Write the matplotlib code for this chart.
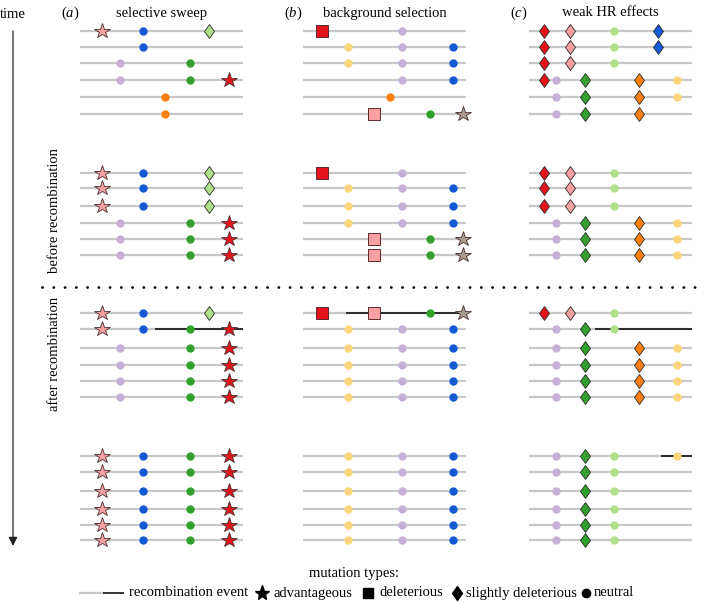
import matplotlib
matplotlib.use("Agg")
import matplotlib.pyplot as plt
from matplotlib.path import Path

plt.rcParams['font.family'] = ['Liberation Serif', 'DejaVu Serif']
plt.rcParams['mathtext.fontset'] = 'custom'
plt.rcParams['mathtext.rm'] = 'Liberation Serif'
plt.rcParams['mathtext.it'] = 'Liberation Serif:italic'

# ---------------- data ----------------
panel_labels = ['a', 'b', 'c']
panel_titles = ['selective sweep', 'background selection', 'weak HR effects']
stage_labels = ['before recombination', 'after recombination']

# (a) selective sweep: mutation -> position along chromosome (fraction), type, colour
sweep_names = ['adv1', 'neuP', 'neuB', 'neuO', 'neuG', 'sdelLG', 'adv2']
sweep_pos = [0.135, 0.245, 0.386, 0.52, 0.675, 0.79, 0.915]
sweep_type = ['adv', 'neu', 'neu', 'neu', 'neu', 'sdel', 'adv']
sweep_col = ['#f4a0a4', '#c7b0d8', '#1359d6', '#ff7f0e', '#32a02c', '#b2df8a', '#e3141c']
sweep_haps = [
    [['adv1', 'neuB', 'sdelLG'], ['neuB'], ['neuP', 'neuG'], ['neuP', 'neuG', 'adv2'], ['neuO'], ['neuO']],
    [['adv1', 'neuB', 'sdelLG']] * 3 + [['neuP', 'neuG', 'adv2']] * 3,
    [['adv1', 'neuB', 'sdelLG'], ['adv1', 'neuB', 'neuG', 'adv2']] + [['neuP', 'neuG', 'adv2']] * 4,
    [['adv1', 'neuB', 'neuG', 'adv2']] * 6,
]
sweep_recomb = [(2, 1, 0.46)]  # (block, row, start of recombined segment)

# (b) background selection
bgs_names = ['delR', 'neuY', 'delP', 'neuO', 'neuP', 'neuG', 'neuB', 'advG']
bgs_pos = [0.115, 0.275, 0.435, 0.535, 0.605, 0.78, 0.92, 0.98]
bgs_type = ['del', 'neu', 'del', 'neu', 'neu', 'neu', 'neu', 'adv']
bgs_col = ['#e3141c', '#fdd57a', '#f9a0a2', '#ff7f0e', '#c7b0d8', '#32a02c', '#1359d6', '#a69c92']
bgs_haps = [
    [['delR', 'neuP'], ['neuY', 'neuP', 'neuB'], ['neuY', 'neuP', 'neuB'], ['neuP', 'neuB'], ['neuO'], ['delP', 'neuG', 'advG']],
    [['delR', 'neuP']] + [['neuY', 'neuP', 'neuB']] * 3 + [['delP', 'neuG', 'advG']] * 2,
    [['delR', 'delP', 'neuG', 'advG']] + [['neuY', 'neuP', 'neuB']] * 5,
    [['neuY', 'neuP', 'neuB']] * 6,
]
bgs_recomb = [(2, 0, 0.265)]

# (c) weak Hill-Robertson effects
hr_names = ['sdR', 'neuP', 'sdP', 'sdG', 'neuLG', 'sdO', 'sdB', 'neuY']
hr_pos = [0.09, 0.165, 0.25, 0.345, 0.52, 0.675, 0.79, 0.905]
hr_type = ['sdel', 'neu', 'sdel', 'sdel', 'neu', 'sdel', 'sdel', 'neu']
hr_col = ['#e3141c', '#c7b0d8', '#f9a0a2', '#32a02c', '#b2df8a', '#ff7f0e', '#1359d6', '#fdd57a']
hr_haps = [
    [['sdR', 'sdP', 'neuLG', 'sdB'], ['sdR', 'sdP', 'neuLG', 'sdB'], ['sdR', 'sdP', 'neuLG'],
     ['sdR', 'neuP', 'sdG', 'sdO', 'neuY'], ['neuP', 'sdG', 'sdO', 'neuY'], ['neuP', 'sdG', 'sdO']],
    [['sdR', 'sdP', 'neuLG']] * 3 + [['neuP', 'sdG', 'sdO', 'neuY']] * 3,
    [['sdR', 'sdP', 'neuLG'], ['neuP', 'sdG', 'neuLG']] + [['neuP', 'sdG', 'sdO', 'neuY']] * 4,
    [['neuP', 'sdG', 'neuLG', 'neuY']] + [['neuP', 'sdG', 'neuLG']] * 5,
]
hr_recomb = [(2, 1, 0.405), (3, 0, 0.81)]

legend_labels = ['recombination event', 'advantageous', 'deleterious', 'slightly deleterious', 'neutral']

# ---------------- layout / style ----------------
W, H = 709, 602
panel_x0 = [80, 303, 529]
panel_len = 163
block_y0 = [31, 173, 313, 456]
row_off = [[0, 16, 32, 49, 66, 83],
           [0, 15, 33, 50, 66, 82],
           [0, 16, 35, 52, 68, 84],
           [0, 16, 35, 53, 69, 84]]

diamond = Path([(0, 1), (0.72, 0), (0, -1), (-0.72, 0), (0, 1)],
               [Path.MOVETO, Path.LINETO, Path.LINETO, Path.LINETO, Path.CLOSEPOLY])
mstyle = {
    'adv': dict(marker='*', ms=11.5, mec='#4a3030', mew=0.6),
    'del': dict(marker='s', ms=8.0, mec='#5a2a2a', mew=0.7),
    'sdel': dict(marker=diamond, ms=10.0, mec='#2a2a2a', mew=0.6),
    'neu': dict(marker='o', ms=6.0, mec='none', mew=0),
}
grey = '#c8c8c8'

fig = plt.figure(figsize=(W / 100, H / 100), dpi=100)
ax = fig.add_axes([0, 0, 1, 1])
ax.set_xlim(0, W)
ax.set_ylim(H, 0)
ax.axis('off')

panels = [
    (sweep_names, sweep_pos, sweep_type, sweep_col, sweep_haps, sweep_recomb),
    (bgs_names, bgs_pos, bgs_type, bgs_col, bgs_haps, bgs_recomb),
    (hr_names, hr_pos, hr_type, hr_col, hr_haps, hr_recomb),
]

for p, (names, pos, types, cols, haps, recs) in enumerate(panels):
    x0 = panel_x0[p]
    info = {n: (x0 + q * panel_len, t, c) for n, q, t, c in zip(names, pos, types, cols)}
    for b, block in enumerate(haps):
        for r, hap in enumerate(block):
            y = block_y0[b] + row_off[b][r]
            ax.plot([x0, x0 + panel_len], [y, y], color=grey, lw=1.6, zorder=1,
                    solid_capstyle='butt')
            for n in hap:
                x, t, c = info[n]
                ax.plot([x], [y], color=c, mfc=c, linestyle='none', zorder=3, **mstyle[t])
    for b, r, start in recs:
        y = block_y0[b] + row_off[b][r]
        ax.plot([x0 + start * panel_len, x0 + panel_len], [y, y], color='black', lw=1.1,
                zorder=2, solid_capstyle='butt')
    # titles
    ax.text(x0 - 10, 13, '(' + r'$\it{' + panel_labels[p] + '}$' + ')', ha='center', va='center',
            fontsize=10.5)
    ax.text(x0 + panel_len * 0.5, 13, panel_titles[p], ha='center', va='center', fontsize=10.5)

# time axis
ax.text(13, 14, 'time', ha='center', va='center', fontsize=10.5)
ax.annotate('', xy=(13, 546), xytext=(13, 31),
            arrowprops=dict(arrowstyle='-|>', color='#222222', lw=0.9, mutation_scale=13,
                            shrinkA=0, shrinkB=0))
ax.text(54, 211, stage_labels[0], rotation=90, ha='center', va='center', fontsize=10.5)
ax.text(54, 354, stage_labels[1], rotation=90, ha='center', va='center', fontsize=10.5)

# separator
ax.plot([42, 702], [287, 287], color='black', lw=2.0, linestyle=(0, (0.05, 4.0)),
        dash_capstyle='round')

# legend
ax.text(354, 573, 'mutation types:', ha='center', va='center', fontsize=10.5)
ly = 593
ax.plot([79, 103], [ly, ly], color=grey, lw=1.6, solid_capstyle='butt')
ax.plot([103, 124], [ly, ly], color='black', lw=1.1, solid_capstyle='butt')
ax.text(129, ly, legend_labels[0], ha='left', va='center', fontsize=10.5)
ax.plot([262], [ly], marker='*', ms=11, color='black', linestyle='none')
ax.text(274, ly, legend_labels[1], ha='left', va='center', fontsize=10.5)
ax.plot([368], [ly], marker='s', ms=7.5, color='black', linestyle='none')
ax.text(379, ly, legend_labels[2], ha='left', va='center', fontsize=10.5)
ax.plot([457], [ly], marker=diamond, ms=10, color='black', linestyle='none')
ax.text(466, ly, legend_labels[3], ha='left', va='center', fontsize=10.5)
ax.plot([586], [ly], marker='o', ms=6, color='black', linestyle='none')
ax.text(594, ly, legend_labels[4], ha='left', va='center', fontsize=10.5)

fig.savefig('out.png', dpi=100)
